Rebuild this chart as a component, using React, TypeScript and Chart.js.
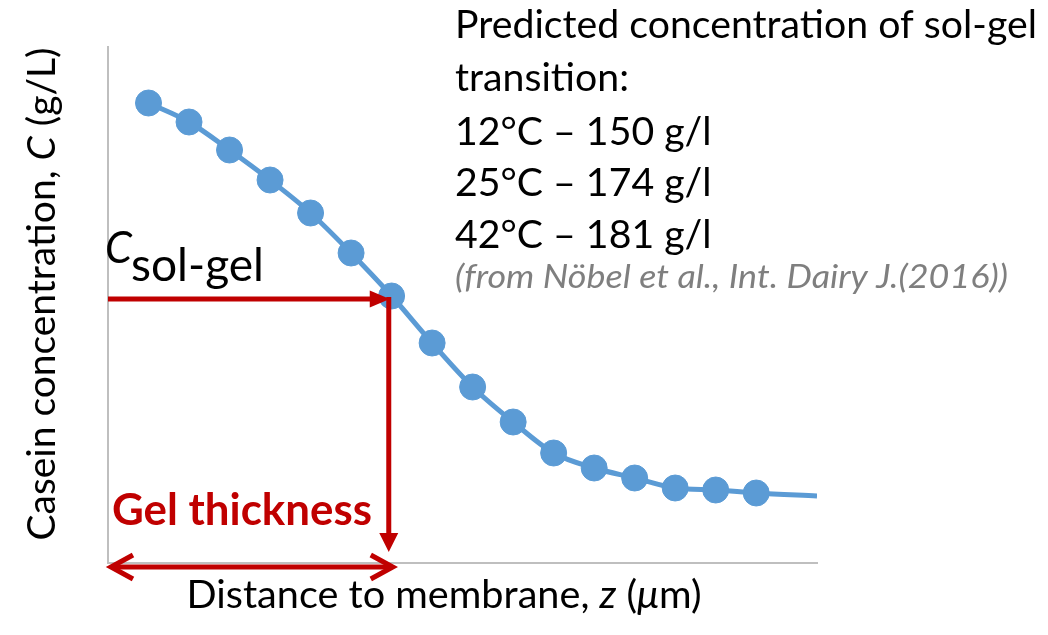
import React, { useEffect, useRef } from "react";
import { Chart, registerables } from "chart.js";

Chart.register(...registerables);

// distance to membrane z (µm) and casein concentration C (g/L, arbitrary units)
const zValues = [1, 2, 3, 4, 5, 6, 7, 8, 9, 10, 11, 12, 13, 14, 15, 16, 17.5];
const cValues = [230, 220.5, 206.5, 191.5, 175, 155, 133.5, 110, 88, 70.5, 55, 47.5, 42.5, 37.5, 36.5, 35, 33.5];
const markerShown = [1, 1, 1, 1, 1, 1, 1, 1, 1, 1, 1, 1, 1, 1, 1, 1, 0];

const zMax = 17.5;
const cMax = 258;
const solGelC = 132;
const gelZ = 6.93;
const gelArrowBottomC = 5.5;
const gelBracketC = -2;

const infoLines = [
  "Predicted concentration of sol-gel",
  "transition:",
  "12°C – 150 g/l",
  "25°C – 174 g/l",
  "42°C – 181 g/l",
];
const sourceLine = "(from Nöbel et al., Int. Dairy J.(2016))";

const FONT = 'Lato, "Open Sans", sans-serif';
const BLUE = "#5B9BD5";
const RED = "#C00000";

type Run = { t: string; s: string };

function runsWidth(ctx: CanvasRenderingContext2D, runs: Run[], size: number) {
  let w = 0;
  for (const r of runs) {
    ctx.font = `${r.s} ${size}px ${FONT}`;
    w += ctx.measureText(r.t).width;
  }
  return w;
}

// draw runs starting at (x,y) baseline, compressed/stretched to targetW
function drawRuns(
  ctx: CanvasRenderingContext2D,
  runs: Run[],
  x: number,
  y: number,
  size: number,
  targetW: number,
  color: string
) {
  const w = runsWidth(ctx, runs, size);
  const sx = targetW / w;
  ctx.save();
  ctx.translate(x, y);
  ctx.scale(sx, 1);
  ctx.fillStyle = color;
  ctx.textBaseline = "alphabetic";
  ctx.textAlign = "left";
  let cx = 0;
  for (const r of runs) {
    ctx.font = `${r.s} ${size}px ${FONT}`;
    ctx.fillText(r.t, cx, 0);
    cx += ctx.measureText(r.t).width;
  }
  ctx.restore();
}

const annotationPlugin = {
  id: "gelAnnotations",
  afterDatasetsDraw(chart: any) {
    const ctx: CanvasRenderingContext2D = chart.ctx;
    const xs = chart.scales.x;
    const ys = chart.scales.y;
    const x0 = xs.getPixelForValue(0);
    const xg = xs.getPixelForValue(gelZ);
    const yg = ys.getPixelForValue(solGelC);
    const yb = ys.getPixelForValue(gelArrowBottomC);
    const yBr = ys.getPixelForValue(gelBracketC);

    ctx.save();
    ctx.strokeStyle = RED;
    ctx.fillStyle = RED;
    ctx.lineWidth = 5;
    ctx.lineCap = "butt";

    // horizontal arrow to curve
    ctx.beginPath();
    ctx.moveTo(x0, yg);
    ctx.lineTo(xg - 15, yg);
    ctx.stroke();
    ctx.beginPath();
    ctx.moveTo(xg + 1, yg);
    ctx.lineTo(xg - 19, yg - 8.5);
    ctx.lineTo(xg - 19, yg + 8.5);
    ctx.closePath();
    ctx.fill();

    // vertical arrow down
    ctx.beginPath();
    ctx.moveTo(xg, yg - 2);
    ctx.lineTo(xg, yb - 15);
    ctx.stroke();
    ctx.beginPath();
    ctx.moveTo(xg, yb);
    ctx.lineTo(xg - 9.5, yb - 19);
    ctx.lineTo(xg + 9.5, yb - 19);
    ctx.closePath();
    ctx.fill();

    // double arrow (gel thickness)
    const l = x0 + 3;
    const r = xg + 4;
    ctx.lineJoin = "miter";
    ctx.beginPath();
    ctx.moveTo(l + 2, yBr);
    ctx.lineTo(r - 2, yBr);
    ctx.stroke();
    ctx.beginPath();
    ctx.moveTo(l + 22, yBr - 12);
    ctx.lineTo(l, yBr);
    ctx.lineTo(l + 22, yBr + 12);
    ctx.stroke();
    ctx.beginPath();
    ctx.moveTo(r - 22, yBr - 12);
    ctx.lineTo(r, yBr);
    ctx.lineTo(r - 22, yBr + 12);
    ctx.stroke();
    ctx.restore();

    // texts
    drawRuns(ctx, [{ t: "Gel thickness", s: "bold" }], 112, 525, 43, 260, RED);
    drawRuns(ctx, [{ t: "C", s: "italic" }], 105, 263, 45, 27, "#000");
    drawRuns(ctx, [{ t: "sol-gel", s: "" }], 131, 281, 46, 133, "#000");

    const baselines = [38, 91, 145, 196, 248];
    const widths = [582, 0, 0, 0, 0];
    infoLines.forEach((line, i) => {
      const runs = [{ t: line, s: "" }];
      let w = widths[i];
      if (!w) {
        // same compression as first line
        const first = runsWidth(ctx, [{ t: infoLines[0], s: "" }], 39);
        w = runsWidth(ctx, runs, 39) * (582 / first);
      }
      drawRuns(ctx, runs, 455, baselines[i], 39, w, "#000");
    });
    drawRuns(ctx, [{ t: sourceLine, s: "italic" }], 455, 288, 33, 553, "#7F7F7F");

    // x axis title
    const xRuns: Run[] = [
      { t: "Distance to membrane, ", s: "" },
      { t: "z", s: "italic" },
      { t: " (", s: "" },
      { t: "μ", s: "italic" },
      { t: "m)", s: "" },
    ];
    drawRuns(ctx, xRuns, 444 - 515 / 2, 608, 38, 515, "#000");

    // y axis title
    const yRuns: Run[] = [
      { t: "Casein concentration, ", s: "" },
      { t: "C", s: "italic" },
      { t: " (g/L)", s: "" },
    ];
    ctx.save();
    ctx.translate(55, 294);
    ctx.rotate(-Math.PI / 2);
    drawRuns(ctx, yRuns, -493 / 2, 0, 38, 493, "#000");
    ctx.restore();
  },
};

export default function App() {
  const ref = useRef<HTMLCanvasElement | null>(null);
  useEffect(() => {
    document.body.style.margin = "0";
    if (!ref.current) return;
    const chart = new Chart(ref.current, {
      type: "line",
      data: {
        datasets: [
          {
            data: zValues.map((z, i) => ({ x: z, y: cValues[i] })),
            borderColor: BLUE,
            backgroundColor: BLUE,
            borderWidth: 5,
            pointRadius: markerShown.map((m) => (m ? 13 : 0)),
            pointBackgroundColor: BLUE,
            pointBorderColor: BLUE,
            pointBorderWidth: 1,
            cubicInterpolationMode: "monotone",
            fill: false,
          },
        ],
      },
      options: {
        animation: false,
        responsive: false,
        devicePixelRatio: 1,
        layout: { padding: { left: 108, right: 231, top: 47, bottom: 72 } },
        plugins: {
          legend: { display: false },
          tooltip: { enabled: false },
          title: { display: false },
        },
        scales: {
          x: {
            type: "linear",
            min: 0,
            max: zMax,
            grid: { display: false, drawTicks: false },
            ticks: { display: false },
            border: { display: true, color: "#BFBFBF", width: 2 },
          },
          y: {
            type: "linear",
            min: 0,
            max: cMax,
            grid: { display: false, drawTicks: false },
            ticks: { display: false },
            border: { display: true, color: "#BFBFBF", width: 2 },
          },
        },
      },
      plugins: [annotationPlugin],
    });
    return () => chart.destroy();
  }, []);
  return (
    <div style={{ position: "absolute", left: 0, top: 0, width: 1048, height: 635, background: "#fff" }}>
      <canvas ref={ref} width={1048} height={635} />
    </div>
  );
}
